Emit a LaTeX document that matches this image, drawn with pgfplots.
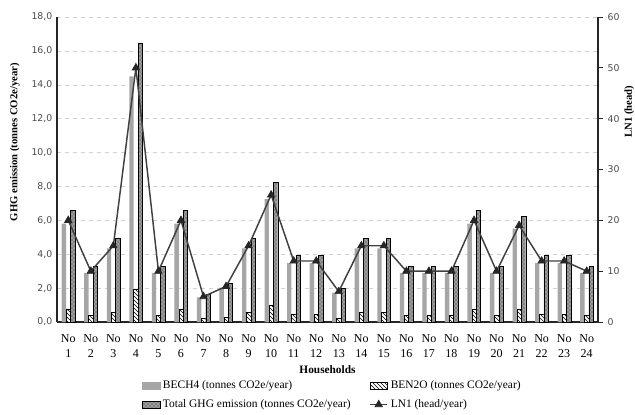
\documentclass[border=0pt]{standalone}
\usepackage{fontspec}
\setmainfont{Liberation Serif}
\newfontfamily\tickfont{DejaVu Sans}
\usepackage{pgfplots}
\usepackage{pgfplotstable}
\pgfplotsset{compat=1.18}
\usetikzlibrary{patterns}

\pgfplotstableread{
x bech4 ben2o total ln1
1 5.80 0.78 6.58 20
2 2.90 0.39 3.29 10
3 4.35 0.59 4.94 15
4 14.50 1.95 16.45 50
5 2.90 0.39 3.29 10
6 5.80 0.78 6.58 20
7 1.45 0.20 1.65 5
8 2.03 0.27 2.30 7
9 4.35 0.59 4.94 15
10 7.25 0.98 8.23 25
11 3.48 0.47 3.95 12
12 3.48 0.47 3.95 12
13 1.74 0.23 1.97 6
14 4.35 0.59 4.94 15
15 4.35 0.59 4.94 15
16 2.90 0.39 3.29 10
17 2.90 0.39 3.29 10
18 2.90 0.39 3.29 10
19 5.80 0.78 6.58 20
20 2.90 0.39 3.29 10
21 5.51 0.74 6.25 19
22 3.48 0.47 3.95 12
23 3.48 0.47 3.95 12
24 2.90 0.39 3.29 10
}\data

\pgfplotsset{
  ln1legend/.style={legend image code/.code={\draw[##1, mark repeat=2, mark phase=2] plot coordinates {(0pt,0pt) (6.5pt,0pt) (13pt,0pt)};}}
}

\begin{document}
\begin{tikzpicture}
\useasboundingbox (-42.75pt,-69pt) rectangle (433.5pt,241.5pt);
\begin{axis}[
  at={(0,0)}, anchor=south west,
  width=405.75pt, height=228.75pt, scale only axis,
  xmin=0.5, xmax=24.5, ymin=0, ymax=18,
  axis x line*=bottom, axis y line*=left,
  axis line style={black!85, line width=0.8pt, -},
  ybar=0pt, bar width=3.3pt,
  xtick={1,...,24},
  xticklabels={No\\1,No\\2,No\\3,No\\4,No\\5,No\\6,No\\7,No\\8,No\\9,No\\10,No\\11,No\\12,No\\13,No\\14,No\\15,No\\16,No\\17,No\\18,No\\19,No\\20,No\\21,No\\22,No\\23,No\\24},
  xticklabel style={align=center, font=\fontsize{9}{11.25}\selectfont, yshift=-2pt},
  x tick style={draw=none},
  ytick={0,2,...,18},
  y tick style={draw=none},
  yticklabel style={font=\tickfont\fontsize{7}{8}\selectfont, text=black!70,
    /pgf/number format/.cd, fixed, fixed zerofill, precision=1, use comma, assume math mode=true},
  ymajorgrids, grid style={dashed, black!18, line width=0.4pt},
  xlabel={Households},
  xlabel style={font=\fontsize{8.5}{10}\selectfont\bfseries, at={(axis description cs:0.5,0)}, anchor=center, yshift=-36pt},
  ylabel={GHG emission (tonnes CO2e/year)},
  ylabel style={font=\fontsize{8}{9}\selectfont\bfseries, at={(axis description cs:-0.078,0.59)}, anchor=center},
]
\addplot[fill=black!35, draw=none] table[x=x,y=bech4]{\data};
\addplot[fill=white, draw=black, line width=0.3pt, postaction={pattern=north west lines}] table[x=x,y=ben2o]{\data};
\addplot[fill=black!50, draw=black, line width=0.3pt, postaction={pattern=crosshatch dots, pattern color=white}] table[x=x,y=total]{\data};
\end{axis}
\begin{axis}[
  at={(0,0)}, anchor=south west,
  width=405.75pt, height=228.75pt, scale only axis,
  xmin=0.5, xmax=24.5, ymin=0, ymax=60,
  axis y line*=right, axis x line=none,
  axis line style={black!85, line width=0.8pt, -},
  ytick={0,10,...,60}, tick align=outside, major tick length=3.75pt,
  y tick style={black!85, line width=0.6pt},
  yticklabel style={font=\tickfont\fontsize{7}{8}\selectfont, text=black!70, /pgf/number format/assume math mode=true},
  ylabel={LN1 (head)},
  ylabel style={font=\fontsize{8}{9}\selectfont\bfseries, at={(axis description cs:1.058,0.689)}, anchor=center},
  legend columns=2, legend cell align=left,
  legend style={draw=none, fill=none, at={(axis description cs:0.51,-0.175)}, anchor=north,
    font=\fontsize{8.6}{10}\selectfont, /tikz/every even column/.append style={column sep=12pt}, row sep=2.5pt},
]
\addlegendimage{legend image code/.code={\fill[black!35] (0pt,-2.6pt) rectangle (13pt,2.6pt);}}
\addlegendentry{BECH4 (tonnes CO2e/year)}
\addlegendimage{legend image code/.code={\draw[fill=white, draw=black, line width=0.3pt, postaction={pattern=north west lines}] (0pt,-2.6pt) rectangle (13pt,2.6pt);}}
\addlegendentry{BEN2O (tonnes CO2e/year)}
\addlegendimage{legend image code/.code={\draw[fill=black!50, draw=black, line width=0.3pt, postaction={pattern=crosshatch dots, pattern color=white}] (0pt,-2.6pt) rectangle (13pt,2.6pt);}}
\addlegendentry{Total GHG emission (tonnes CO2e/year)}
\addplot[color=black!75, line width=1.1pt, mark=triangle*, mark size=3.2pt, mark options={fill=black!85, draw=black!85, line width=0.5pt}, ln1legend] table[x=x,y=ln1]{\data};
\addlegendentry{LN1 (head/year)}
\end{axis}
\end{tikzpicture}
\end{document}
